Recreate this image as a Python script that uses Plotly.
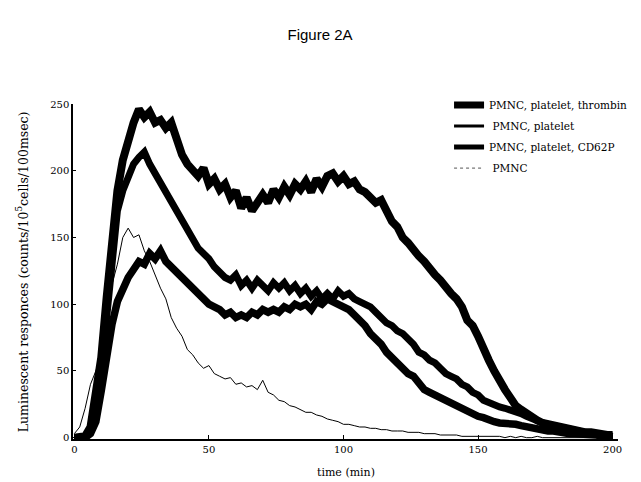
import plotly.graph_objects as go

time_min = list(range(0, 201, 2))

thrombin = [0, 0, 1, 8, 30, 60, 105, 150, 185, 208, 225, 236, 246, 240, 244, 236, 238, 232, 236, 222,
            212, 205, 200, 196, 202, 190, 194, 186, 190, 180, 185, 172, 180, 170, 176, 182, 176, 186, 180, 188,
            182, 190, 186, 192, 184, 194, 188, 196, 198, 192, 196, 190, 192, 186, 184, 180, 176, 178, 170, 162,
            158, 150, 146, 140, 136, 132, 126, 122, 118, 112, 108, 104, 98, 88, 84, 76, 66, 58, 50, 42,
            36, 30, 24, 21, 18, 15, 13, 11, 10, 9, 8, 7, 6, 5, 5, 4, 4, 3, 3, 2, 2]

platelet = [0, 0, 0, 4, 18, 50, 92, 135, 170, 185, 195, 205, 210, 214, 205, 198, 192, 185, 178, 170,
            162, 155, 148, 142, 138, 134, 128, 124, 120, 118, 122, 114, 118, 112, 118, 114, 110, 116, 112, 116,
            110, 114, 108, 112, 106, 110, 104, 108, 104, 110, 106, 108, 104, 102, 100, 98, 94, 90, 86, 84,
            80, 78, 74, 70, 64, 62, 58, 56, 52, 48, 46, 44, 40, 38, 34, 32, 28, 26, 25, 23,
            22, 21, 19, 18, 16, 14, 12, 11, 10, 9, 8, 7, 6, 5, 4, 4, 3, 3, 2, 2, 1]

cd62p = [0, 0, 0, 3, 12, 35, 62, 85, 102, 112, 120, 126, 132, 130, 138, 134, 140, 132, 128, 124,
         120, 116, 112, 108, 104, 100, 98, 96, 92, 94, 90, 92, 90, 94, 92, 96, 94, 96, 94, 98,
         96, 100, 98, 100, 96, 102, 100, 104, 102, 100, 98, 96, 92, 88, 84, 78, 74, 70, 64, 60,
         56, 52, 48, 46, 40, 36, 34, 32, 30, 28, 26, 23, 21, 20, 18, 16, 15, 13, 12, 11,
         11, 10, 10, 9, 8, 7, 6, 6, 5, 5, 4, 4, 3, 3, 3, 2, 2, 2, 1, 1, 1]

pmnc = [3, 8, 22, 40, 50, 62, 88, 115, 130, 150, 157, 150, 152, 140, 132, 122, 112, 104, 90, 82,
        76, 66, 62, 56, 52, 54, 48, 46, 44, 45, 40, 41, 38, 39, 36, 43, 34, 32, 28, 27,
        24, 23, 21, 19, 19, 17, 16, 14, 13, 12, 10, 10, 9, 8, 8, 7, 7, 6, 6, 5,
        5, 5, 4, 4, 4, 3, 3, 3, 2, 2, 2, 2, 1, 1, 1, 1, 1, 1, 1, 1,
        0, 1, 0, 1, 0, 0, 1, 0, 0, 0, 0, 0, 0, 0, 0, 0, 0, 0, 0, 0, 0]

series_names = ["PMNC, platelet, thrombin", " PMNC, platelet", "PMNC, platelet, CD62P", " PMNC"]
x_ticks = [0, 50, 100, 150, 200]
y_ticks = [0, 50, 100, 150, 200, 250]

serif = "DejaVu Serif"

plot_widths = [8, 7, 7.5, 1]
legend_widths = [7, 3, 5, 1]

fig = go.Figure()
for i, (name, vals) in enumerate(zip(series_names, [thrombin, platelet, cd62p, pmnc])):
    grp = "g%d" % i
    fig.add_trace(go.Scatter(x=time_min, y=vals, mode="lines", name=name, legendgroup=grp,
                             showlegend=False,
                             line=dict(color="black", width=plot_widths[i])))
    fig.add_trace(go.Scatter(x=[None], y=[None], mode="lines", name=name, legendgroup=grp,
                             showlegend=True,
                             line=dict(color="black" if i < 3 else "#555555", width=legend_widths[i],
                                       dash="solid" if i < 3 else "dot")))

# page body has an 8px margin, so the figure is drawn 8px smaller and shifted
W, H = 633, 474
fig.update_layout(
    width=W, height=H,
    margin=dict(l=65, r=23, t=96, b=43, autoexpand=False),
    paper_bgcolor="white", plot_bgcolor="white",
    title=dict(text="Figure 2A", font=dict(family="Liberation Sans", size=15, color="black"),
               xref="container", x=312 / W, xanchor="center", yref="container", y=1 - 27 / H,
               yanchor="middle"),
    legend=dict(x=0.69, y=1.04, xanchor="left", yanchor="top", bgcolor="rgba(0,0,0,0)",
                font=dict(family=serif, size=10.5, color="black"), itemwidth=30,
                tracegroupgap=2),
    showlegend=True,
)
fig.update_xaxes(range=[-0.5, 202], tickvals=x_ticks, showgrid=False, zeroline=False,
                 showline=True, linecolor="black", linewidth=2, ticks="inside", ticklen=4,
                 tickcolor="black", tickfont=dict(family=serif, size=10, color="black"))
fig.update_yaxes(range=[-1, 250], tickvals=y_ticks, showgrid=False, zeroline=False,
                 showline=True, linecolor="black", linewidth=1.5, ticks="inside", ticklen=3,
                 tickcolor="black", tickfont=dict(family=serif, size=10, color="black"))

fig.add_annotation(text="Luminescent responces (counts/10<sup>5</sup>cells/100msec)",
                   xref="paper", yref="paper", x=-0.094, y=0.5, textangle=-90,
                   showarrow=False, xanchor="center", yanchor="middle",
                   font=dict(family=serif, size=12.5, color="black"))
fig.add_annotation(text="time (min)", xref="paper", yref="paper", x=0.5, y=-0.1,
                   showarrow=False, xanchor="center", yanchor="middle",
                   font=dict(family=serif, size=11, color="black"))

fig.write_html("out.html")
